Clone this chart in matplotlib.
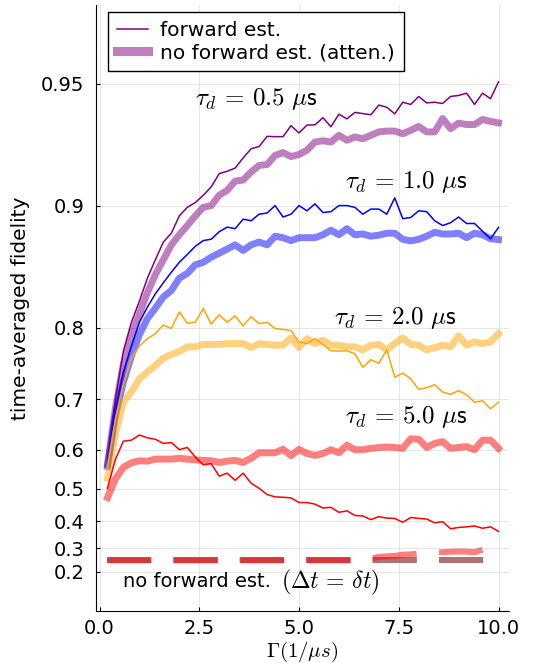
import numpy as np
import matplotlib
matplotlib.use('Agg')
import matplotlib.pyplot as plt

plt.rcParams['mathtext.fontset'] = 'cm'
plt.rcParams['font.family'] = 'DejaVu Sans'

# Gamma grid (1/us)
gamma = np.linspace(0.2, 10.0, 50)

# forward estimation (thin lines)
fwd_05 = [0.575, 0.700, 0.772, 0.806, 0.828, 0.849, 0.864, 0.877, 0.883, 0.894,
          0.899, 0.9017, 0.9057, 0.9101, 0.9166, 0.9177, 0.9192, 0.9237, 0.9276, 0.9285,
          0.9325, 0.9324, 0.9324, 0.9365, 0.9338, 0.9367, 0.9368, 0.9393, 0.9361, 0.9405,
          0.9389, 0.9411, 0.9407, 0.9403, 0.9435, 0.9428, 0.9406, 0.9444, 0.9437, 0.9462,
          0.9442, 0.9444, 0.9440, 0.9462, 0.9465, 0.9472, 0.9437, 0.9472, 0.9455, 0.9505]
fwd_10 = [0.570, 0.680, 0.743, 0.778, 0.806, 0.822, 0.835, 0.845, 0.854, 0.862,
          0.868, 0.874, 0.878, 0.879, 0.884, 0.887, 0.886, 0.892, 0.891, 0.895,
          0.8957, 0.900, 0.8933, 0.895, 0.900, 0.897, 0.901, 0.896, 0.8965, 0.900,
          0.900, 0.899, 0.895, 0.898, 0.898, 0.895, 0.9043, 0.8923, 0.893, 0.897,
          0.8965, 0.891, 0.888, 0.8898, 0.8933, 0.8893, 0.8893, 0.8843, 0.8793, 0.8868]
fwd_20 = [0.555, 0.665, 0.725, 0.762, 0.778, 0.787, 0.793, 0.803, 0.799, 0.817,
          0.805, 0.806, 0.8206, 0.804, 0.814, 0.806, 0.813, 0.802, 0.812, 0.8045,
          0.806, 0.799, 0.798, 0.7965, 0.783, 0.781, 0.787, 0.780, 0.772, 0.7715,
          0.772, 0.768, 0.7497, 0.760, 0.755, 0.773, 0.735, 0.741, 0.7325, 0.716,
          0.7188, 0.7234, 0.7115, 0.708, 0.714, 0.707, 0.6945, 0.697, 0.683, 0.6945]
fwd_50 = [0.502, 0.578, 0.619, 0.621, 0.632, 0.626, 0.623, 0.614, 0.616, 0.600,
          0.605, 0.583, 0.564, 0.567, 0.535, 0.543, 0.524, 0.543, 0.516, 0.502,
          0.484, 0.477, 0.476, 0.474, 0.460, 0.460, 0.455, 0.443, 0.445, 0.429,
          0.434, 0.419, 0.417, 0.405, 0.415, 0.410, 0.409, 0.396, 0.412, 0.409,
          0.407, 0.394, 0.398, 0.373, 0.378, 0.380, 0.383, 0.375, 0.380, 0.364]

# no forward estimation, attenuated (thick lines)
att_05 = [0.565, 0.685, 0.755, 0.790, 0.815, 0.836, 0.852, 0.864, 0.875, 0.882,
          0.888, 0.894, 0.899, 0.900, 0.9057, 0.9083, 0.913, 0.9135, 0.9174, 0.9204,
          0.9208, 0.9248, 0.926, 0.9243, 0.9252, 0.927, 0.9303, 0.9308, 0.9303, 0.9329,
          0.931, 0.9323, 0.9316, 0.9329, 0.9342, 0.9345, 0.9345, 0.9335, 0.9348, 0.9362,
          0.9342, 0.9342, 0.939, 0.9354, 0.9374, 0.9369, 0.9369, 0.9387, 0.938, 0.9375]
att_10 = [0.560, 0.670, 0.728, 0.765, 0.792, 0.810, 0.821, 0.832, 0.838, 0.849,
          0.853, 0.860, 0.862, 0.866, 0.869, 0.872, 0.875, 0.871, 0.875, 0.877,
          0.875, 0.881, 0.880, 0.878, 0.880, 0.880, 0.880, 0.882, 0.885, 0.882,
          0.886, 0.882, 0.8825, 0.881, 0.8817, 0.883, 0.883, 0.8789, 0.8778, 0.8789,
          0.881, 0.8836, 0.8825, 0.8825, 0.883, 0.880, 0.883, 0.882, 0.8793, 0.8787]
att_20 = [0.530, 0.635, 0.695, 0.712, 0.7325, 0.743, 0.752, 0.762, 0.767, 0.771,
          0.777, 0.777, 0.780, 0.780, 0.780, 0.781, 0.781, 0.781, 0.776, 0.781,
          0.780, 0.779, 0.779, 0.788, 0.776, 0.787, 0.781, 0.785, 0.779, 0.779,
          0.777, 0.777, 0.773, 0.779, 0.780, 0.773, 0.781, 0.788, 0.780, 0.779,
          0.773, 0.776, 0.779, 0.777, 0.7905, 0.779, 0.783, 0.781, 0.783, 0.793]
att_50 = [0.475, 0.528, 0.558, 0.569, 0.574, 0.573, 0.578, 0.578, 0.578, 0.580,
          0.578, 0.576, 0.575, 0.574, 0.570, 0.573, 0.575, 0.570, 0.580, 0.593,
          0.593, 0.593, 0.601, 0.586, 0.601, 0.591, 0.587, 0.591, 0.600, 0.593,
          0.610, 0.600, 0.600, 0.603, 0.605, 0.606, 0.605, 0.603, 0.624, 0.623,
          0.605, 0.614, 0.618, 0.603, 0.605, 0.607, 0.600, 0.621, 0.621, 0.603]

# no forward estimation with dt = delta t (dashed)
dt_05 = [0.25] * 50
dt_10 = [0.25] * 50
dt_20 = [0.25] * 50
dt_50 = [0.25, 0.25, 0.25, 0.25, 0.25, 0.25, 0.25, 0.25, 0.25, 0.25,
         0.25, 0.25, 0.25, 0.25, 0.25, 0.25, 0.25, 0.25, 0.25, 0.25,
         0.25, 0.25, 0.25, 0.25, 0.25, 0.25, 0.25, 0.25, 0.25, 0.25,
         0.25, 0.25, 0.25, 0.257, 0.265, 0.267, 0.269, 0.274, 0.275, 0.279,
         0.282, 0.283, 0.284, 0.286, 0.287, 0.286, 0.284, 0.294, 0.295, 0.297]

colors = ['#800080', '#0000ff', '#ffa500', '#ff0000']
fwd_all = [fwd_05, fwd_10, fwd_20, fwd_50]
att_all = [att_05, att_10, att_20, att_50]
dt_all = [dt_05, dt_10, dt_20, dt_50]

yticks = [0.2, 0.3, 0.4, 0.5, 0.6, 0.7, 0.8, 0.9, 0.95]
ytick_labels = ['0.2', '0.3', '0.4', '0.5', '0.6', '0.7', '0.8', '0.9', '0.95']
xticks = [0.0, 2.5, 5.0, 7.5, 10.0]
xtick_labels = ['0.0', '2.5', '5.0', '7.5', '10.0']


def to_scale(f):
    f = np.clip(np.asarray(f, dtype=float), -10, 0.999999)
    return -np.log(1 - f)


def from_scale(t):
    return 1 - np.exp(-np.asarray(t, dtype=float))


fig = plt.figure(figsize=(5.33, 6.63), dpi=100)
ax = fig.add_axes([0.1796, 0.0784, 0.7759, 0.9141])
ax.set_yscale('function', functions=(to_scale, from_scale))

for i, (c, f, a, d) in enumerate(zip(colors, fwd_all, att_all, dt_all)):
    ax.plot(gamma, f, color=c, lw=1.1, label='forward est.' if i == 0 else None)
    ax.plot(gamma, a, color=c, lw=5, alpha=0.5,
            label='no forward est. (atten.)' if i == 0 else None)
    ln, = ax.plot(gamma, d, color=c, lw=4.3, alpha=0.5)
    ln.set_dashes((7.37, 3.75))
    ln.set_dash_capstyle('butt')

tau_fs = 18
ax.text(2.4, 0.9455, r'$\tau_d\,=\,0.5\ \mu\mathsf{s}$', fontsize=tau_fs, va='center')
ax.text(6.15, 0.9127, r'$\tau_d\,=\,1.0\ \mu\mathsf{s}$', fontsize=tau_fs, va='center')
ax.text(5.88, 0.811, r'$\tau_d\,=\,2.0\ \mu\mathsf{s}$', fontsize=tau_fs, va='center')
ax.text(6.15, 0.668, r'$\tau_d\,=\,5.0\ \mu\mathsf{s}$', fontsize=tau_fs, va='center')
t1 = ax.text(0.59, 0.152, 'no forward est.', fontsize=14, va='center')
ax.annotate(r'$(\Delta t\,=\,\delta t)$', xy=(1.0, 0.45), xycoords=t1,
            xytext=(10, 0), textcoords='offset pixels',
            fontsize=17, va='center', ha='left')

ax.set_xlim(-0.095, 10.27)
ax.set_ylim(0.0, 0.968)
ax.set_xticks(xticks)
ax.set_xticklabels(xtick_labels)
ax.set_yticks(yticks)
ax.set_yticklabels(ytick_labels)
ax.minorticks_off()
ax.tick_params(direction='in', length=3, width=0.8, labelsize=14, pad=8)
ax.tick_params(axis='x', pad=6)

ax.set_xlabel(r'$\Gamma(1/\mu s)$', fontsize=15, labelpad=1)
ax.set_ylabel('time-averaged fidelity', fontsize=14.5, labelpad=8)

ax.spines['top'].set_visible(False)
ax.spines['right'].set_visible(False)
ax.grid(color='#e6e6e6', lw=0.7)
ax.set_axisbelow(True)

leg = ax.legend(loc='upper left', bbox_to_anchor=(0.0297, 0.9884), borderaxespad=0,
                fontsize=14.5, fancybox=False, framealpha=1, edgecolor='black',
                handlelength=1.55, handletextpad=0.6, labelspacing=0.15, borderpad=0.45)
leg.get_frame().set_linewidth(1.0)
leg.get_lines()[1].set_linewidth(6.5)

fig.savefig('out.png', dpi=100)
plt.close(fig)
